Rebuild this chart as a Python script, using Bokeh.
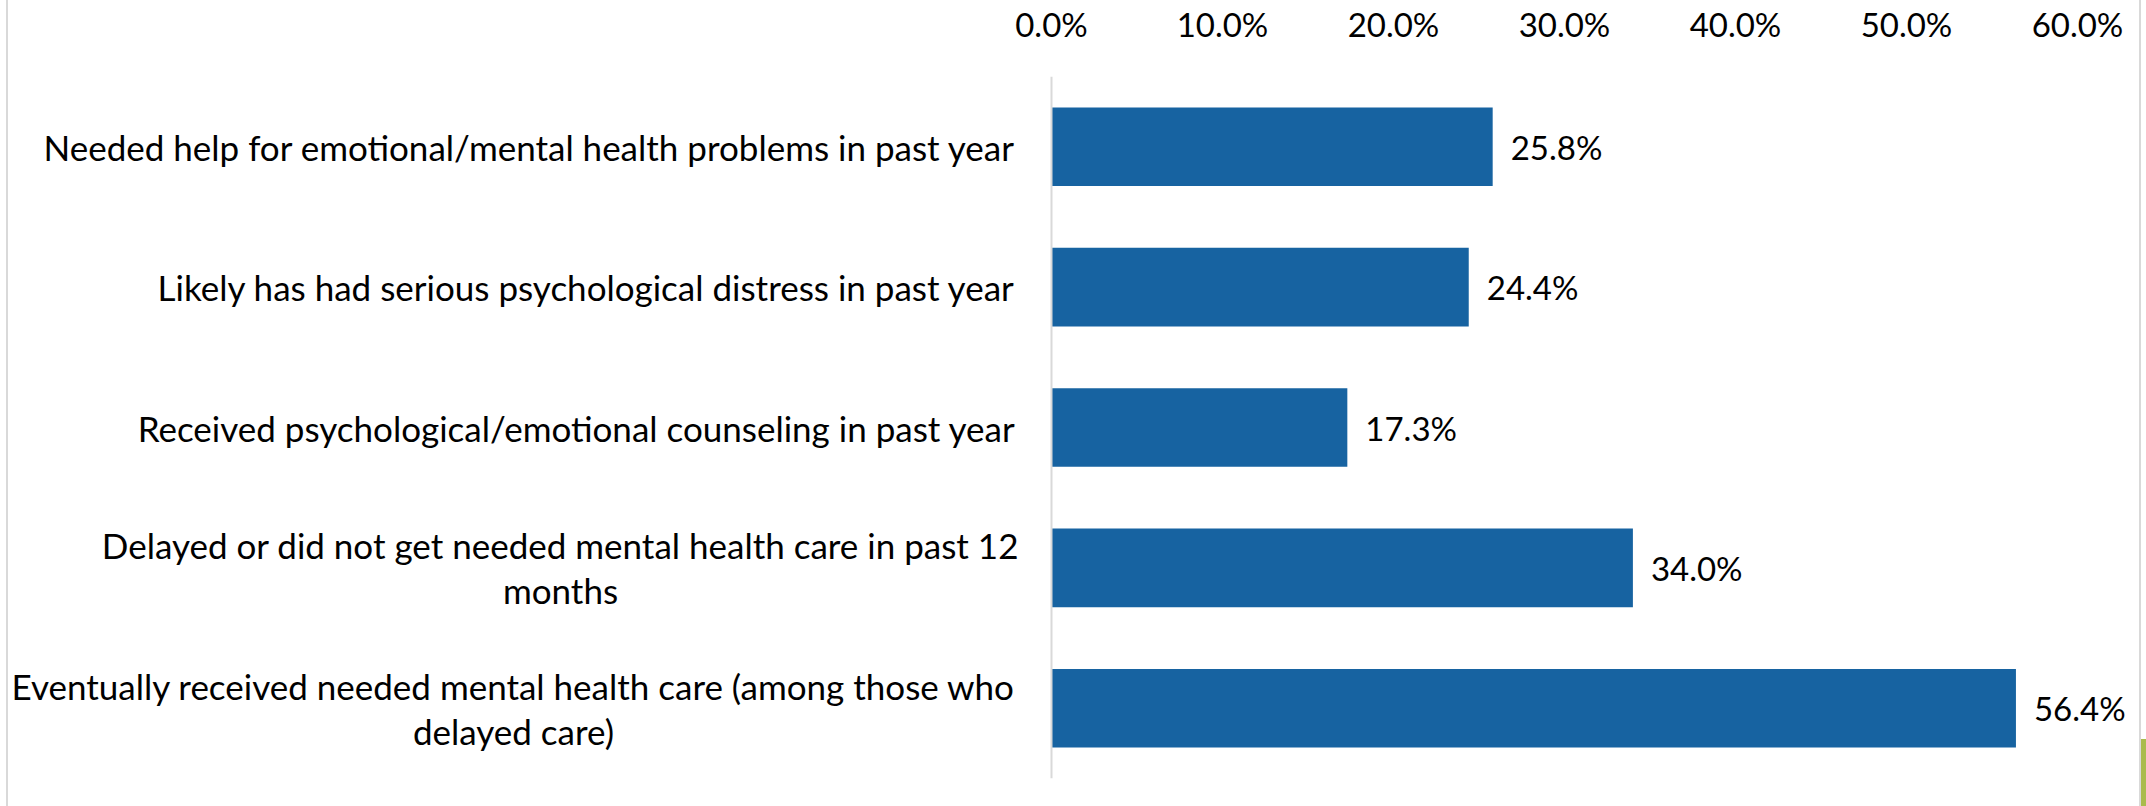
from bokeh.plotting import figure
from bokeh.models import ColumnDataSource, FactorRange, Range1d, Span, FixedTicker
from bokeh.core.properties import value
from bokeh.embed import file_html
from bokeh.resources import INLINE

# ---- data ----
categories = [
    "Needed help for emotional/mental health problems in past year",
    "Likely has had serious psychological distress in past year",
    "Received psychological/emotional counseling in past year",
    "Delayed or did not get needed mental health care in past 12\nmonths",
    "Eventually received needed mental health care (among those who\ndelayed care)",
]
values = [25.8, 24.4, 17.3, 34.0, 56.4]
tick_values = [0, 10, 20, 30, 40, 50, 60]
tick_labels = ["0.0%", "10.0%", "20.0%", "30.0%", "40.0%", "50.0%", "60.0%"]

# ---- styling / layout ----
FONT = "Lato"
NUM_FS = "33px"
CAT_FS = "35px"
BAR_COLOR = "#1763A1"
GRID_GRAY = "#D9D9D9"
W, H = 2146, 806
ZERO_PX, SIXTY_PX = 1051, 2077
scale = (SIXTY_PX - ZERO_PX) / 60.0
x_start = -ZERO_PX / scale
x_end = x_start + W / scale

p = figure(
    width=W, height=H,
    y_range=FactorRange(factors=list(reversed(categories))),
    x_range=Range1d(x_start, x_end),
    x_axis_location="above", y_axis_location=None,
    output_backend="svg", toolbar_location=None,
    min_border_left=0, min_border_right=0, min_border_bottom=28, min_border_top=76,
)
p.outline_line_color = None
p.xgrid.visible = False
p.ygrid.visible = False
p.background_fill_color = None
p.border_fill_color = None
# chart-area border lines and the small green strip at the lower right edge
p.styles = {
    "background": (
        "linear-gradient(#D9D9D9,#D9D9D9) 6px 0px / 2px 100% no-repeat, "
        "linear-gradient(#D9D9D9,#D9D9D9) 2139px 0px / 2px 100% no-repeat, "
        "linear-gradient(#A9BB4B,#A9BB4B) 2141px 739px / 5px 67px no-repeat, "
        "white"
    )
}

ax = p.xaxis[0]
ax.ticker = FixedTicker(ticks=tick_values)
ax.major_label_overrides = {t: l for t, l in zip(tick_values, tick_labels)}
ax.axis_line_color = None
ax.major_tick_line_color = None
ax.minor_tick_line_color = None
ax.major_label_text_font = FONT
ax.major_label_text_font_size = NUM_FS
ax.major_label_text_color = "black"
ax.major_label_standoff = 27

src = ColumnDataSource(dict(
    cat=categories, val=values,
    lab=[f"{v:.1f}%" for v in values],
))

p.hbar(y="cat", right="val", left=0, height=0.56, source=src,
       fill_color=BAR_COLOR, line_color=None)

# vertical category axis line at 0
p.add_layout(Span(location=0, dimension="height", line_color=GRID_GRAY, line_width=2))

# data labels
p.text(x="val", y="cat", text="lab", source=src, x_offset=18,
       text_align="left", text_baseline="middle",
       text_font=value(FONT), text_font_size=NUM_FS, text_color="black")

# category labels (single-line: right aligned next to the axis)
single = [c for c in categories if "\n" not in c]
ssrc = ColumnDataSource(dict(cat=single))
p.text(x=0, y="cat", text="cat", source=ssrc, x_offset=-36,
       text_align="right", text_baseline="middle",
       text_font=value(FONT), text_font_size=CAT_FS, text_color="black")

# wrapped labels: lines centred on each other, block right aligned
block_center_offset = {3: -491, 4: -538}
for i, c in enumerate(categories):
    if "\n" in c:
        s = ColumnDataSource(dict(cat=[c]))
        p.text(x=0, y="cat", text="cat", source=s,
               x_offset=block_center_offset[i],
               text_align="center", text_baseline="middle", text_line_height=1.07,
               text_font=value(FONT), text_font_size=CAT_FS, text_color="black")

open("out.html", "w").write(file_html(p, INLINE))
